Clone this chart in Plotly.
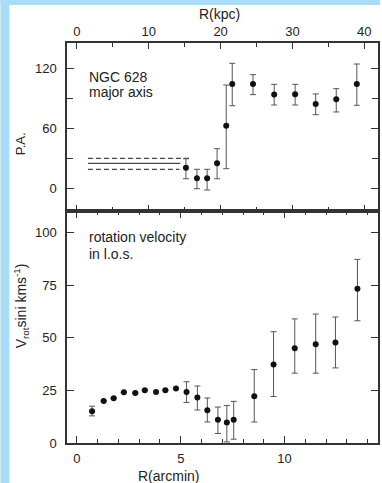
import plotly.graph_objects as go

# ---------------- data ----------------
# Position angle (top panel), x in arcmin
pa_r = [5.25, 5.78, 6.27, 6.75, 7.19, 7.48, 8.48, 9.50, 10.51, 11.50, 12.49, 13.48]
pa_val = [20.4, 9.7, 9.7, 24.8, 62.6, 104.5, 104.5, 94.0, 94.2, 84.4, 89.1, 104.5]
pa_err_up = [9.0, 9.1, 9.1, 14.7, 40.9, 20.8, 9.4, 10.2, 10.0, 10.1, 10.7, 20.1]
pa_err_dn = [11.1, 10.4, 11.7, 15.5, 43.2, 21.8, 10.7, 10.6, 10.8, 10.7, 12.7, 21.4]

# reference P.A. lines (inner disk): value, end radius, style
line_pa = [29.8, 24.8, 18.8]
line_r0 = [0.53, 0.53, 0.53]
line_r1 = [5.43, 4.98, 4.94]
line_dash = ["dash", "solid", "dash"]

# Rotation velocity in l.o.s. (bottom panel)
v_r = [0.73, 1.29, 1.77, 2.26, 2.81, 3.27, 3.81, 4.26, 4.77, 5.28, 5.80, 6.28,
       6.79, 7.22, 7.55, 8.54, 9.47, 10.49, 11.50, 12.45, 13.51]
v_val = [15.1, 20.0, 21.3, 24.1, 23.8, 25.1, 24.3, 25.1, 25.9, 24.3, 21.6, 15.6,
         11.1, 9.7, 11.0, 22.2, 37.3, 45.1, 47.0, 47.8, 73.3]
v_err_up = [2.4, 0, 0, 0, 0, 0, 0, 0, 0, 4.8, 5.5, 5.8, 6.0, 8.1, 8.8, 12.7,
            15.6, 13.9, 14.3, 12.1, 14.0]
v_err_dn = [2.2, 0, 0, 0, 0, 0, 0, 0, 0, 5.0, 5.9, 5.6, 6.6, 9.2, 9.2, 12.2,
            15.2, 11.9, 13.8, 12.1, 15.2]

kpc_per_arcmin = 2.89
arcmin_range = [-0.478, 14.5]
kpc_ticks = [0, 10, 20, 30, 40]
arcmin_ticks = [0, 5, 10]
pa_ticks = [0, 60, 120]
v_ticks = [0, 25, 50, 75, 100]

# ---------------- figure ----------------
W, H = 382, 483
L, R, T, B = 67, 2, 43, 40
PW, PH = W - L - R, H - T - B
split_px = 211

def px2x(px):
    return (px - L) / PW

def py2y(py):
    return (H - B - py) / PH

FONT = "Liberation Sans, Arial, sans-serif"
INK = "#222222"
ERR = "#555555"

fig = go.Figure()

for v, r0, r1, d in zip(line_pa, line_r0, line_r1, line_dash):
    fig.add_trace(go.Scatter(
        x=[r0, r1], y=[v, v], mode="lines", xaxis="x2", yaxis="y2",
        line=dict(color="#444444", width=1.2, dash="5px,3px" if d == "dash" else "solid"),
        showlegend=False, hoverinfo="skip"))

fig.add_trace(go.Scatter(
    x=pa_r, y=pa_val, mode="markers", xaxis="x2", yaxis="y2",
    marker=dict(color="#111111", size=6),
    error_y=dict(type="data", symmetric=False, array=pa_err_up, arrayminus=pa_err_dn,
                 color=ERR, thickness=1, width=3),
    showlegend=False))

# invisible trace so that the kpc axis is drawn
fig.add_trace(go.Scatter(
    x=[kpc_ticks[0]], y=[pa_ticks[0]], mode="markers", xaxis="x3", yaxis="y2",
    marker=dict(size=1, opacity=0), showlegend=False, hoverinfo="skip"))

fig.add_trace(go.Scatter(
    x=v_r, y=v_val, mode="markers", xaxis="x", yaxis="y",
    marker=dict(color="#111111", size=6),
    error_y=dict(type="data", symmetric=False, array=v_err_up, arrayminus=v_err_dn,
                 color=ERR, thickness=1, width=3),
    showlegend=False))

split = py2y(split_px)
tickfont = dict(family=FONT, size=13, color=INK)
axcommon = dict(showline=True, linecolor="#333333", linewidth=1.5, showgrid=False,
                zeroline=False, ticks="inside", tickcolor="#333333", tickwidth=1.2,
                tickfont=tickfont)

fig.update_layout(
    width=W, height=H,
    margin=dict(l=L, r=R, t=T, b=B),
    paper_bgcolor="white", plot_bgcolor="white",
    showlegend=False,
    xaxis=dict(domain=[0, 1], anchor="y", range=arcmin_range, tickvals=arcmin_ticks,
               ticklen=7, mirror="ticks", ticklabelstandoff=3,
               minor=dict(dtick=1, ticks="inside", ticklen=4, tickcolor="#333333", tickwidth=1),
               **axcommon),
    yaxis=dict(domain=[0, split], anchor="x", range=[0, 110.3], tickvals=v_ticks,
               ticklen=7, mirror="ticks", ticklabelstandoff=6, **axcommon),
    xaxis2=dict(domain=[0, 1], anchor="y2", range=arcmin_range, visible=False),
    xaxis3=dict(domain=[0, 1], anchor="y2", overlaying="x2", side="top",
                range=[arcmin_range[0] * kpc_per_arcmin, arcmin_range[1] * kpc_per_arcmin],
                tickvals=kpc_ticks, ticklen=6, mirror="ticks", ticklabelstandoff=0,
                minor=dict(dtick=5, ticks="inside", ticklen=4, tickcolor="#333333", tickwidth=1),
                **axcommon),
    yaxis2=dict(domain=[split, 1], anchor="x2", range=[-23.1, 145.7], tickvals=pa_ticks,
                ticklen=7, mirror="ticks", ticklabelstandoff=6,
                minor=dict(dtick=30, ticks="inside", ticklen=6, tickcolor="#333333", tickwidth=1),
                **axcommon),
)

BLUE = "#a9dcf7"
fig.add_shape(type="rect", xref="paper", yref="paper", x0=px2x(0), x1=px2x(9),
              y0=py2y(H), y1=py2y(0), fillcolor=BLUE, line_width=0, layer="below")
fig.add_shape(type="rect", xref="paper", yref="paper", x0=px2x(0), x1=px2x(W),
              y0=py2y(5), y1=py2y(0), fillcolor=BLUE, line_width=0, layer="below")

def ann(text, x, y, xanchor="center", size=14, angle=0):
    fig.add_annotation(text=text, x=px2x(x), y=py2y(y), xref="paper", yref="paper",
                       xanchor=xanchor, yanchor="middle", showarrow=False,
                       textangle=angle, font=dict(family=FONT, size=size, color=INK))

ann("R(kpc)", 220, 14)
ann("R(arcmin)", 169, 476)
ann("P.A.", 21, 144, size=13, angle=-90)
ann("V<sub>rot</sub>sini kms<sup>-1</sup>)", 21, 306, angle=-90)
ann("NGC 628", 87, 77, xanchor="left")
ann("major axis", 87, 92, xanchor="left")
ann("rotation velocity", 87, 237, xanchor="left")
ann("in l.o.s.", 87, 254, xanchor="left")

post = ("document.body.style.margin='0';document.body.style.padding='0';"
        "document.body.style.overflow='hidden';"
        "document.documentElement.style.overflow='hidden';")
fig.write_html("out.html", post_script=post, config={"displayModeBar": False})
